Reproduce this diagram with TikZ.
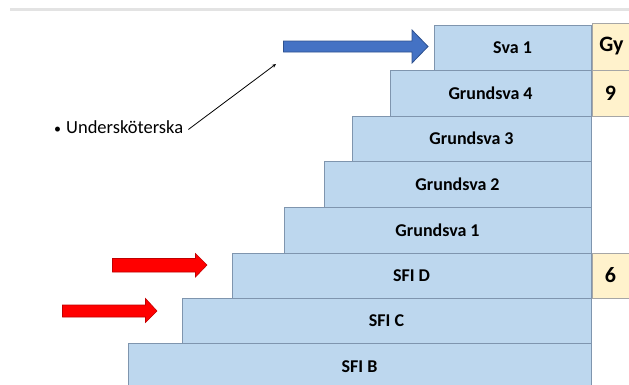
\documentclass[tikz,border=0pt]{standalone}
\usepackage{fontspec}
\setmainfont{Carlito}
\usetikzlibrary{arrows.meta}
\definecolor{blkfill}{HTML}{BDD7EE}
\definecolor{blkline}{HTML}{7F95AE}
\definecolor{yfill}{HTML}{FFF2CC}
\definecolor{yline}{HTML}{A6A6A6}
\definecolor{bluearr}{HTML}{4472C4}
\definecolor{bluearrline}{HTML}{2F528F}
\definecolor{redarr}{HTML}{FF0000}
\definecolor{redarrline}{HTML}{C00000}
\definecolor{topline}{HTML}{E3E3E3}
\tikzset{
  blk/.style={draw=blkline, fill=blkfill, line width=0.9pt, inner sep=0pt,
    anchor=north east, font=\bfseries\fontsize{18}{21}\selectfont},
  ybox/.style={draw=yline, fill=yfill, line width=0.8pt, inner sep=0pt,
    anchor=north west, minimum width=40pt, font=\bfseries\fontsize{22}{25}\selectfont},
  barrow/.style={fill=bluearr, draw=bluearrline, line width=0.8pt},
  rarrow/.style={fill=redarr, draw=redarrline, line width=0.6pt},
}
\begin{document}
\begin{tikzpicture}[x=1pt,y=-1pt]
\useasboundingbox (0,0) rectangle (629,384);
\clip (0,0) rectangle (629,384);
% top grey rule
\draw[topline, line width=2.5pt] (10,9.5) -- (629,9.5);
% staircase
\node[blk, minimum width=463pt, minimum height=48pt] (sfib) at (591.5,342.5) {SFI B};
\node[blk, minimum width=409pt, minimum height=45pt] (sfic) at (591.5,297.5) {SFI C};
\node[blk, minimum width=359pt, minimum height=45pt] (sfid) at (591.5,252.5) {SFI D};
\node[blk, minimum width=307pt, minimum height=46pt] (g1) at (591.5,206.5) {Grundsva 1};
\node[blk, minimum width=267pt, minimum height=46pt] (g2) at (591.5,160.5) {Grundsva 2};
\node[blk, minimum width=239pt, minimum height=45pt] (g3) at (591.5,115.5) {Grundsva 3};
\node[blk, minimum width=201pt, minimum height=46pt] (g4) at (591.5,69.5) {Grundsva 4};
\node[blk, minimum width=157pt, minimum height=45pt] (sva) at (591.5,24.5) {Sva 1};
% yellow level boxes
\node[ybox, minimum height=47pt] (gy) at (591.5,22.5) {\hspace*{-1pt}Gy};
\node[ybox, minimum height=46pt] (nine) at (591.5,69.5) {\hspace*{-3pt}9};
\node[ybox, minimum height=45pt] (six) at (591.5,252.5) {\hspace*{-3pt}6};
% blue arrow
\fill[barrow] (283.5,41) -- (412,41) -- (412,30) -- (428,46.5) -- (412,63) -- (412,52) -- (283.5,52) -- cycle;
% red arrows
\fill[rarrow] (112.5,258.5) -- (195.5,258.5) -- (195.5,253.5) -- (207,265) -- (195.5,277) -- (195.5,272) -- (112.5,272) -- cycle;
\fill[rarrow] (62.5,305) -- (145.5,305) -- (145.5,298.5) -- (157,311) -- (145.5,322.5) -- (145.5,317) -- (62.5,317) -- cycle;
% label and pointer
\node[anchor=west, inner sep=0pt, font=\fontsize{18.5}{21}\selectfont] (usk) at (54,127.5) {\fontsize{14}{16}\selectfont•\hspace{5pt}\fontsize{18.5}{21}\selectfont Undersköterska};
\coordinate (tip) at (276,64);
\draw[line width=0.8pt, -{Stealth[length=4pt,width=3.5pt]}] ([xshift=5pt,yshift=-2pt]usk.east) -- (tip);
\end{tikzpicture}
\end{document}
